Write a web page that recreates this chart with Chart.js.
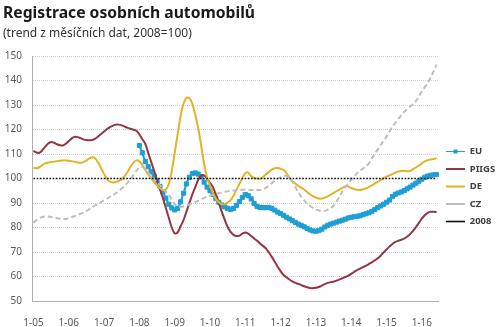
<!DOCTYPE html>
<html>
<head>
<meta charset="utf-8">
<script src="https://cdn.jsdelivr.net/npm/chart.js"></script>
<style>
  html, body { margin: 0; padding: 0; background: #fff; }
  #wrap { width: 500px; height: 327px; }
</style>
</head>
<body>
<div id="wrap"><canvas id="chart" width="500" height="327"></canvas></div>
<script>
// Registrace osobních automobilů: monthly trend, 2008 = 100, Jan 2005 .. Jun 2016.

const YEARS = ["05", "06", "07", "08", "09", "10", "11", "12", "13", "14", "15", "16"];
const LAST_MONTH_2016 = 6;
const categories = [];
YEARS.forEach(yy => {
  const months = yy === "16" ? LAST_MONTH_2016 : 12;
  for (let m = 1; m <= months; m++) categories.push(`${m}-${yy}`);
});
const tickLabels = YEARS.map(yy => `1-${yy}`);

// one row per year
const piigs = [
  111.3, 110.6, 110.5, 111.5, 113, 114.3, 114.9, 114.6, 114, 113.6, 113.5, 114.2,
  115.3, 116.4, 117, 116.9, 116.5, 116, 115.7, 115.6, 115.7, 116.3, 117.2, 118.2,
  119.2, 120.2, 121, 121.6, 122, 122, 121.7, 121.2, 120.7, 120.3, 119.9, 119.5,
  118, 116, 114.2, 110.5, 106.8, 103.2, 99.5, 95.5, 92, 88, 84, 80,
  77.6, 78, 80.5, 83, 86.5, 90, 93.5, 96.5, 99.5, 101.2, 101.3, 100,
  98.2, 96.5, 93.5, 90, 86.5, 83.2, 80.2, 78.2, 77, 76.5, 76.7, 77.5,
  78, 77.5, 76.5, 75.5, 74.6, 73.5, 72.5, 71.5, 69.8, 68, 66, 64,
  62.2, 60.6, 59.7, 58.8, 58, 57.4, 57, 56.5, 56, 55.6, 55.3, 55.2,
  55.4, 55.7, 56.3, 56.9, 57.4, 57.7, 57.9, 58.3, 58.8, 59.3, 59.8, 60.4,
  61.1, 61.9, 62.6, 63.2, 63.8, 64.4, 65.1, 65.8, 66.6, 67.4, 68.5, 69.8,
  71, 72.2, 73.3, 74.1, 74.6, 75, 75.5, 76.2, 77.3, 78.6, 80.2, 81.9,
  83.6, 85, 86, 86.4, 86.4, 86.3,
];

const de = [
  104.3, 104.2, 104.6, 105.5, 106.2, 106.5, 106.7, 106.9, 107.1, 107.3, 107.4, 107.4,
  107.3, 107.1, 106.8, 106.5, 106.4, 106.7, 107.4, 108.2, 108.7, 108.2, 106.5, 104.2,
  101.8, 99.8, 98.7, 98.4, 98.6, 99.1, 99.6, 101, 102.8, 104.8, 106.5, 107.4,
  107, 105.5, 103.5, 101.6, 100, 98.6, 97.2, 96, 95.2, 95.5, 97.8, 103,
  110.5, 118, 125.5, 130.5, 133, 132.8, 130.5, 126, 120.5, 113.5, 106, 100.5,
  97.2, 94, 91.8, 90.3, 89.5, 89.6, 90.3, 91.2, 93, 95.5, 97.8, 100.2,
  102.2, 102.4, 101, 100.2, 100, 99.9, 100.6, 101.7, 102.7, 103.6, 104.2, 104.3,
  104, 103.5, 102.2, 100.3, 99, 98, 97, 96.3, 95.5, 94.5, 93.6, 92.8,
  92.2, 91.8, 91.8, 92.2, 92.7, 93.4, 94.1, 94.8, 95.5, 96.2, 96.9, 96.8,
  96.1, 95.7, 95.4, 95.3, 95.6, 96, 96.5, 97.2, 97.9, 98.6, 99.4, 100.1,
  100.8, 101.3, 101.8, 102.4, 102.9, 103.1, 103.1, 103, 103.1, 103.8, 104.5, 105.3,
  106.2, 107, 107.5, 107.8, 108, 108.3,
];

const cz = [
  82, 83, 83.8, 84.3, 84.5, 84.5, 84.3, 84, 83.8, 83.6, 83.4, 83.5,
  83.9, 84.3, 84.7, 85.1, 85.6, 86.1, 86.7, 87.5, 88.3, 89, 89.7, 90.4,
  91.1, 91.8, 92.5, 93.2, 94, 94.9, 95.9, 97, 98.3, 99.6, 101.5, 103.2,
  104.5, 104.8, 103.8, 102.3, 100.9, 99.6, 98.4, 97.2, 96, 94.7, 93.5, 91.5,
  89.5, 88.7, 88.5, 88.6, 89, 89.4, 89.9, 90.4, 90.9, 91.5, 92.1, 92.6,
  93, 93.4, 93.7, 94, 94.3, 94.6, 94.8, 95, 95.1, 95.2, 95.3, 95.4,
  95.5, 95.4, 95.3, 95.3, 95.3, 95.3, 95.6, 96.2, 97.1, 98.1, 99.1, 99.9,
  100.6, 101.1, 101.1, 100.3, 98.7, 96.6, 94.3, 92.6, 91.1, 89.8, 88.8, 88,
  87.4, 87, 86.7, 86.8, 87.3, 88, 88.9, 90.6, 92.6, 94.8, 96.5, 97.9,
  99.5, 100.8, 102.1, 103.2, 104.1, 105, 106.2, 108.2, 110, 111.8, 113.7, 115.3,
  117.1, 119.1, 121.1, 122.7, 124.4, 125.8, 127.2, 128.3, 129.3, 130.4, 131.7, 133.6,
  135.5, 137.3, 139, 141.3, 143.8, 146.5,
];

// EU series starts in January 2008
const EU_START = "1-08";
const eu = [
  113.5, 110.5, 107, 104.8, 102.8, 101, 99, 96.8, 94.5, 92, 89.5, 88,
  87.2, 87.8, 90.5, 94, 97.8, 100.5, 102, 102.3, 101.8, 100.8, 98.5, 96.5,
  95, 93.5, 91.8, 90.3, 89.2, 88.4, 87.8, 87.4, 87.8, 89, 90.6, 92.3,
  93.5, 93, 91.7, 89.8, 88.6, 88.2, 88.1, 88.1, 88.2, 87.8, 87.1, 86.3,
  85.7, 85, 84.2, 83.5, 82.8, 82.1, 81.4, 80.9, 80.3, 79.6, 79, 78.6,
  78.5, 78.7, 79.3, 80.2, 80.9, 81.4, 81.8, 82.2, 82.6, 83, 83.4, 83.9,
  84.2, 84.4, 84.6, 84.8, 85.2, 85.6, 86, 86.6, 87.3, 88.1, 88.8, 89.5,
  90.3, 91.2, 92.6, 93.6, 94.1, 94.5, 95.1, 95.8, 96.5, 97.3, 98.1, 98.9,
  99.7, 100.5, 101, 101.3, 101.5, 101.6,
];

const LEVEL_2008 = 100;

const EU_COLOR = "#1e9fd4";
const PIIGS_COLOR = "#943642";
const DE_COLOR = "#e2b325";
const CZ_COLOR = "#bdbdbd";
const INK = "#595959";
const FONT = '"Noto Sans", "Open Sans", sans-serif';
const LEGEND_LINE = 19;

const euIdx = categories.indexOf(EU_START);
const euData = eu.map((v, i) => ({ x: categories[euIdx + i], y: v }));
const refData = [
  { x: categories[0], y: LEVEL_2008 },
  { x: categories[categories.length - 1], y: LEVEL_2008 },
];

// small square on the EU legend line, like the markers on the series
const legendMarker = {
  id: "legendMarker",
  afterDraw(chart) {
    const boxes = chart.legend && chart.legend.legendHitBoxes;
    if (!boxes || !boxes.length) return;
    const b = boxes[0];
    const ctx = chart.ctx;
    const cx = b.left + LEGEND_LINE / 2;
    const cy = b.top + b.height / 2;
    ctx.save();
    ctx.fillStyle = EU_COLOR;
    ctx.fillRect(cx - 2, cy - 2, 4, 4);
    ctx.restore();
  },
};

new Chart(document.getElementById("chart"), {
  type: "line",
  data: {
    labels: categories,
    datasets: [
      {
        label: "EU",
        data: euData,
        borderColor: EU_COLOR,
        backgroundColor: EU_COLOR,
        borderWidth: 2,
        pointStyle: "rect",
        pointRadius: 2.9,
        pointBorderWidth: 1,
        tension: 0.3,
        order: 4,
      },
      {
        label: "PIIGS",
        data: piigs,
        borderColor: PIIGS_COLOR,
        backgroundColor: PIIGS_COLOR,
        borderWidth: 2,
        pointRadius: 0,
        tension: 0.3,
        order: 3,
      },
      {
        label: "DE",
        data: de,
        borderColor: DE_COLOR,
        backgroundColor: DE_COLOR,
        borderWidth: 2,
        pointRadius: 0,
        tension: 0.3,
        order: 2,
      },
      {
        label: "CZ",
        data: cz,
        borderColor: CZ_COLOR,
        backgroundColor: CZ_COLOR,
        borderWidth: 2,
        borderDash: [5, 3],
        pointRadius: 0,
        tension: 0.3,
        order: 1,
      },
      {
        label: "2008",
        data: refData,
        borderColor: "#111",
        backgroundColor: "#111",
        borderWidth: 1.6,
        borderDash: [1.6, 1.6],
        pointRadius: 0,
        order: 0,
      },
    ],
  },
  options: {
    responsive: false,
    animation: false,
    devicePixelRatio: 1,
    layout: { padding: { left: 3, right: 0, top: 0, bottom: 0 } },
    plugins: {
      tooltip: { enabled: false },
      title: {
        display: true,
        text: "Registrace osobních automobilů",
        align: "start",
        color: "#1a1a1a",
        font: { family: FONT, size: 15.7, weight: "bold" },
        padding: { top: 4, bottom: 0 },
      },
      subtitle: {
        display: true,
        text: "(trend z měsíčních dat, 2008=100)",
        align: "start",
        color: "#333",
        font: { family: FONT, size: 12 },
        padding: { top: 4, bottom: 14.8 },
      },
      legend: {
        position: "right",
        fullSize: false,
        maxWidth: 62,
        title: { display: true, text: "", font: { size: 9.5 }, padding: 2.3 },
        labels: {
          usePointStyle: true,
          pointStyle: "line",
          pointStyleWidth: LEGEND_LINE,
          padding: 8,
          color: "#404040",
          font: { family: FONT, size: 9.5, weight: "bold" },
          sort: (a, b) => a.datasetIndex - b.datasetIndex,
        },
      },
    },
    scales: {
      x: {
        offset: true,
        grid: { display: false },
        border: { display: true, color: "#b0b0b0", width: 1 },
        ticks: {
          autoSkip: false,
          maxRotation: 0,
          padding: 8.5,
          color: INK,
          font: { family: FONT, size: 10 },
          callback(value) {
            const lab = this.getLabelForValue(value);
            return tickLabels.includes(lab) ? lab : null;
          },
        },
        afterFit(scale) { scale.height = 26; },
      },
      y: {
        min: 50,
        max: 150,
        grid: { color: "#d2d2d2", drawTicks: false },
        border: { display: true, color: "#b0b0b0", width: 1, dash: [1, 1] },
        ticks: {
          stepSize: 10,
          padding: 10,
          color: INK,
          font: { family: FONT, size: 10 },
        },
        afterFit(scale) { scale.width = 29; },
      },
    },
  },
  plugins: [legendMarker],
});
</script>
</body>
</html>
